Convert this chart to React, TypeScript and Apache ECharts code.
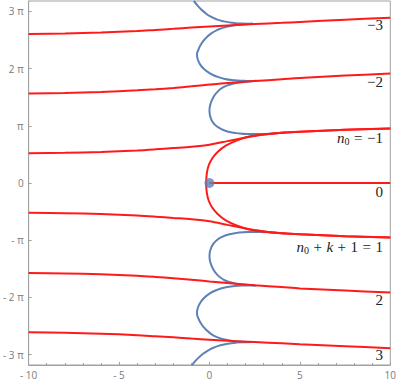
import React, { useEffect, useRef } from "react";
import * as echarts from "echarts";

// ---- axis ticks ----
const xTickValues = [-10, -5, 0, 5, 10];
const yTickMultiples = [-3, -2, -1, 0, 1, 2, 3];
const yTickLabels = ["- 3 π", "- 2 π", "- π", "0", "π", "2 π", "3 π"];

// ---- red curves (x, y) ----
const redM3: number[][] = [[-10, 8.19], [-8, 8.22], [-6, 8.27], [-4, 8.35], [-3, 8.41], [-2, 8.47], [-1, 8.54], [0, 8.6], [1, 8.66], [2.5, 8.73], [4, 8.8], [5, 8.85], [7.5, 8.97], [10, 9.08]];
const redM2: number[][] = [[-10, 4.92], [-8, 4.95], [-6, 5.0], [-4, 5.09], [-3, 5.15], [-2, 5.22], [-1, 5.31], [0, 5.41], [1, 5.5], [2.5, 5.6], [4, 5.7], [5, 5.77], [7.5, 5.9], [10, 6.01]];
const redN1: number[][] = [[-10, 1.63], [-8, 1.66], [-6, 1.71], [-4, 1.79], [-3, 1.85], [-2, 1.92], [-1, 1.99], [0, 2.1], [1, 2.3], [2, 2.5], [3, 2.66], [4, 2.76], [5, 2.82], [7.5, 2.92], [10, 3.0]];
const redC: number[][] = [[10, 3.0], [7.5, 2.92], [5, 2.82], [4, 2.76], [3, 2.66], [2.2, 2.55], [1.5, 2.33], [0.9, 2.05], [0.45, 1.7], [0.15, 1.35], [-0.05, 0.95], [-0.15, 0.5], [-0.18, 0], [-0.15, -0.5], [-0.05, -0.95], [0.15, -1.35], [0.45, -1.7], [0.9, -2.05], [1.5, -2.33], [2.2, -2.55], [3, -2.66], [4, -2.76], [5, -2.82], [7.5, -2.92], [10, -3.0]];
const redZero: number[][] = [[0, 0], [10, 0]];
const redP1: number[][] = [[-10, -1.63], [-8, -1.66], [-6, -1.71], [-4, -1.79], [-3, -1.85], [-2, -1.92], [-1, -1.99], [0, -2.1], [1, -2.3], [2, -2.5], [3, -2.66], [4, -2.76], [5, -2.82], [7.5, -2.92], [10, -3.0]];
const redP2: number[][] = [[-10, -4.94], [-8, -4.97], [-6, -5.02], [-4, -5.1], [-3, -5.16], [-2, -5.23], [-1, -5.31], [0, -5.41], [1, -5.5], [2.5, -5.62], [4, -5.72], [5, -5.79], [7.5, -5.91], [10, -6.02]];
const redP3: number[][] = [[-10, -8.2], [-8, -8.23], [-6, -8.28], [-4, -8.36], [-3, -8.42], [-2, -8.48], [-1, -8.55], [0, -8.61], [1, -8.67], [2.5, -8.74], [4, -8.81], [5, -8.86], [7.5, -8.97], [10, -9.08]];

// ---- blue curves (x, y) ----
const blueTop: number[][] = [[-0.87, 10.0], [-0.7, 9.8], [-0.5, 9.58], [-0.25, 9.36], [0.05, 9.15], [0.4, 8.99], [0.8, 8.88], [1.3, 8.8], [1.8, 8.76], [2.4, 8.75]];
const blueA: number[][] = [[2.4, 8.75], [1.8, 8.71], [1.3, 8.66], [0.85, 8.56], [0.45, 8.42], [0.1, 8.22], [-0.2, 7.96], [-0.45, 7.65], [-0.62, 7.3], [-0.69, 7.05], [-0.65, 6.8], [-0.52, 6.52], [-0.3, 6.26], [0.0, 6.04], [0.4, 5.85], [0.85, 5.72], [1.4, 5.65], [2.0, 5.61], [2.5, 5.6]];
const blueB: number[][] = [[2.6, 5.62], [2.0, 5.56], [1.5, 5.5], [1.1, 5.4], [0.75, 5.25], [0.45, 5.02], [0.22, 4.72], [0.07, 4.38], [0.0, 3.98], [0.06, 3.6], [0.2, 3.32], [0.42, 3.1], [0.7, 2.94], [1.05, 2.82], [1.5, 2.74], [2.1, 2.69], [2.8, 2.69], [3.5, 2.72], [4.2, 2.78]];
const blueB2: number[][] = [[4.2, -2.78], [3.5, -2.72], [2.8, -2.69], [2.1, -2.69], [1.5, -2.74], [1.05, -2.83], [0.7, -2.96], [0.42, -3.13], [0.2, -3.36], [0.06, -3.65], [0.0, -4.02], [0.07, -4.42], [0.22, -4.76], [0.45, -5.06], [0.75, -5.29], [1.1, -5.44], [1.5, -5.53], [2.0, -5.59], [2.6, -5.64]];
const blueA2: number[][] = [[2.5, -5.62], [2.0, -5.63], [1.4, -5.66], [0.85, -5.74], [0.4, -5.88], [0.0, -6.08], [-0.3, -6.32], [-0.52, -6.6], [-0.65, -6.88], [-0.69, -7.15], [-0.62, -7.42], [-0.45, -7.75], [-0.2, -8.05], [0.1, -8.3], [0.45, -8.48], [0.85, -8.6], [1.3, -8.68], [1.8, -8.72], [2.4, -8.74]];
const blueBottom: number[][] = [[2.4, -8.74], [2.0, -8.75], [1.5, -8.77], [1.0, -8.83], [0.55, -8.93], [0.15, -9.08], [-0.2, -9.28], [-0.5, -9.5], [-0.75, -9.75], [-0.96, -10.0]];
const bluePoint: number[][] = [[0, 0]];

// ---- branch labels ----
const branchLabels = [
  { text: "{t|−3}", y: 25 },
  { text: "{t|−2}", y: 82 },
  { text: "{i|n}{s|0}{o|=}{t|−1}", y: 138 },
  { text: "{t|0}", y: 192 },
  { text: "{i|n}{s|0}{o|+}{i|k}{o|+}{t|1}{o|=}{t|1}", y: 247 },
  { text: "{t|2}", y: 300 },
  { text: "{t|3}", y: 355 },
];

const RED = "#ff1a1a";
const BLUE = "#5e81b5";
const GRAY = "#a0a0a0";

export default function App() {
  const ref = useRef<HTMLDivElement>(null);
  useEffect(() => {
    if (!ref.current) return;
    const chart = echarts.init(ref.current, null, { renderer: "svg" });
    const lineSeries = (data: number[][], color: string, z: number, smooth: number) => ({
      type: "line",
      data,
      showSymbol: false,
      smooth,
      lineStyle: { color, width: 2 },
      z,
      silent: true,
    });
    const serifRich = {
      i: { fontFamily: "Liberation Serif", fontStyle: "italic", fontSize: 15, color: "#222" },
      s: { fontFamily: "Liberation Serif", fontSize: 10, color: "#222", padding: [7, 0, 0, 0] },
      t: { fontFamily: "Liberation Serif", fontSize: 15, color: "#222" },
      o: { fontFamily: "Liberation Serif", fontSize: 15, color: "#222", padding: [0, 4.5, 0, 4.5] },
    };
    chart.setOption({
      animation: false,
      grid: { left: 27, right: 7, top: 1, bottom: 18, show: true, borderColor: GRAY, borderWidth: 1 },
      xAxis: {
        type: "value",
        min: -10,
        max: 10,
        interval: 5,
        axisLine: { show: true, onZero: false, lineStyle: { color: GRAY } },
        axisTick: { show: true, inside: true, length: 3, lineStyle: { color: GRAY } },
        minorTick: { show: true, splitNumber: 5, length: 2, lineStyle: { color: GRAY } },
        splitLine: { show: false },
        axisLabel: {
          color: "#7a7a7a",
          fontSize: 10,
          fontFamily: "Open Sans",
          margin: 5,
          formatter: (v: number) => (xTickValues.includes(v) ? (v < 0 ? "- " + Math.abs(v) : String(v)) : ""),
        },
      },
      yAxis: {
        type: "value",
        min: -10,
        max: 10,
        axisLine: { show: true, onZero: false, lineStyle: { color: GRAY } },
        axisTick: {
          show: true,
          inside: true,
          length: 3,
          lineStyle: { color: GRAY },
          customValues: yTickMultiples.map((k) => k * Math.PI),
        },
        splitLine: { show: false },
        axisLabel: {
          color: "#7a7a7a",
          fontSize: 10,
          fontFamily: "Open Sans",
          margin: 5,
          customValues: yTickMultiples.map((k) => k * Math.PI),
          formatter: (v: number) => {
            const k = Math.round(v / Math.PI);
            const idx = yTickMultiples.indexOf(k);
            return idx >= 0 ? yTickLabels[idx] : "";
          },
        },
      },
      series: [
        lineSeries(blueTop, BLUE, 1, 0.5),
        lineSeries(blueA, BLUE, 1, 0.5),
        lineSeries(blueB, BLUE, 1, 0.5),
        lineSeries(blueB2, BLUE, 1, 0.5),
        lineSeries(blueA2, BLUE, 1, 0.5),
        lineSeries(blueBottom, BLUE, 1, 0.5),
        lineSeries(redM3, RED, 2, 0.3),
        lineSeries(redM2, RED, 2, 0.3),
        lineSeries(redN1, RED, 2, 0.3),
        lineSeries(redC, RED, 2, 0.4),
        lineSeries(redZero, RED, 2, 0),
        lineSeries(redP1, RED, 2, 0.3),
        lineSeries(redP2, RED, 2, 0.3),
        lineSeries(redP3, RED, 2, 0.3),
        {
          type: "scatter",
          data: bluePoint,
          symbolSize: 10,
          itemStyle: { color: BLUE },
          z: 3,
          silent: true,
        },
      ],
      graphic: branchLabels.map((l) => ({
        type: "text",
        x: 383,
        y: l.y,
        z: 10,
        style: {
          text: l.text,
          rich: serifRich,
          fontFamily: "Liberation Serif",
          fontSize: 15,
          fill: "#222",
          align: "right",
          verticalAlign: "middle",
          textAlign: "right",
          textVerticalAlign: "middle",
        },
      })),
    });
    return () => chart.dispose();
  }, []);
  return (
    <div
      ref={ref}
      style={{ position: "fixed", left: 0, top: 0, width: 399, height: 383, background: "#fff" }}
    />
  );
}
